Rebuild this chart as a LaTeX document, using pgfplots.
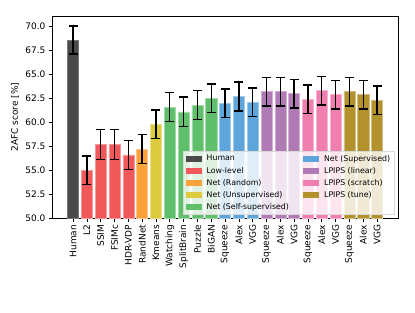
\documentclass[border=0pt]{standalone}
\usepackage{pgfplots}
\pgfplotsset{compat=1.18}
\usepackage{fontspec}
\setmainfont{DejaVu Sans}
\definecolor{cHuman}{HTML}{4A4A4A}
\definecolor{cLow}{HTML}{F0585A}
\definecolor{cRand}{HTML}{FBA23A}
\definecolor{cUnsup}{HTML}{DCCB3C}
\definecolor{cSelf}{HTML}{5FBF6B}
\definecolor{cSup}{HTML}{5EA5DC}
\definecolor{cLin}{HTML}{B07AB5}
\definecolor{cScr}{HTML}{F07FB0}
\definecolor{cTune}{HTML}{B3922E}
\begin{document}
\begin{tikzpicture}
\begin{axis}[
  at={(0,0)}, anchor=south west,
  scale only axis, width=385pt, height=224.4pt,
  xmin=-1.52, xmax=23.57, ymin=50, ymax=71.1,
  ybar, bar width=0.8, bar shift=0pt,
  xtick={0,...,22},
  xticklabels={Human,L2,SSIM,FSIMc,HDR-VDP,RandNet,Kmeans,Watching,SplitBrain,Puzzle,BiGAN,Squeeze,Alex,VGG,Squeeze,Alex,VGG,Squeeze,Alex,VGG,Squeeze,Alex,VGG},
  x tick label style={rotate=90, anchor=east, font=\fontsize{10}{12}\selectfont},
  ytick={50,52.5,...,70},
  yticklabel style={/pgf/number format/fixed, /pgf/number format/fixed zerofill, /pgf/number format/precision=1, font=\fontsize{10}{12}\selectfont},
  /pgf/number format/assume math mode=true,
  tick align=outside, major tick length=3.9pt,
  tick style={black, line width=0.8pt},
  xtick pos=bottom, ytick pos=left,
  axis line style={black, line width=0.8pt},
  ylabel={2AFC score [\%]},
  ylabel style={font=\fontsize{10}{12}\selectfont},
  legend columns=2,
  legend cell align=left,
  legend style={at={(1,0)}, anchor=south east, xshift=-4.4pt, yshift=4.4pt,
    fill=white, fill opacity=0.8, text opacity=1, draw=black!15,
    font=\fontsize{8.7}{10}\selectfont, row sep=1.2pt,
    /tikz/every odd column/.append style={column sep=4pt},
    /tikz/every even column/.append style={column sep=14pt}},
  error bars/y dir=both, error bars/y explicit,
  error bars/error bar style={black, line width=1.5pt},
  error bars/error mark options={black, line width=1.5pt, mark size=5pt, rotate=90},
]
\addlegendimage{legend image code/.code={\fill[cHuman, fill opacity=1] (0pt,-3pt) rectangle (16.7pt,3pt);}}\addlegendentry{Human}
\addlegendimage{legend image code/.code={\fill[cSup, fill opacity=1] (0pt,-3pt) rectangle (16.7pt,3pt);}}\addlegendentry{Net (Supervised)}
\addlegendimage{legend image code/.code={\fill[cLow, fill opacity=1] (0pt,-3pt) rectangle (16.7pt,3pt);}}\addlegendentry{Low-level}
\addlegendimage{legend image code/.code={\fill[cLin, fill opacity=1] (0pt,-3pt) rectangle (16.7pt,3pt);}}\addlegendentry{LPIPS (linear)}
\addlegendimage{legend image code/.code={\fill[cRand, fill opacity=1] (0pt,-3pt) rectangle (16.7pt,3pt);}}\addlegendentry{Net (Random)}
\addlegendimage{legend image code/.code={\fill[cScr, fill opacity=1] (0pt,-3pt) rectangle (16.7pt,3pt);}}\addlegendentry{LPIPS (scratch)}
\addlegendimage{legend image code/.code={\fill[cUnsup, fill opacity=1] (0pt,-3pt) rectangle (16.7pt,3pt);}}\addlegendentry{Net (Unsupervised)}
\addlegendimage{legend image code/.code={\fill[cTune, fill opacity=1] (0pt,-3pt) rectangle (16.7pt,3pt);}}\addlegendentry{LPIPS (tune)}
\addlegendimage{legend image code/.code={\fill[cSelf, fill opacity=1] (0pt,-3pt) rectangle (16.7pt,3pt);}}\addlegendentry{Net (Self-supervised)}

\addplot[fill=cHuman, draw=cHuman!75!white, line width=0.6pt, forget plot] table[x=x, y=y, y error=e] {
x y e
0 68.6 1.45
};
\addplot[fill=cLow, draw=cLow!60!white, line width=0.6pt, forget plot] table[x=x, y=y, y error=e] {
x y e
1 55.0 1.5
2 57.7 1.55
3 57.7 1.55
4 56.6 1.5
};
\addplot[fill=cRand, draw=cRand!60!white, line width=0.6pt, forget plot] table[x=x, y=y, y error=e] {
x y e
5 57.2 1.5
};
\addplot[fill=cUnsup, draw=cUnsup!60!white, line width=0.6pt, forget plot] table[x=x, y=y, y error=e] {
x y e
6 59.8 1.5
};
\addplot[fill=cSelf, draw=cSelf!60!white, line width=0.6pt, forget plot] table[x=x, y=y, y error=e] {
x y e
7 61.6 1.5
8 61.1 1.55
9 61.8 1.5
10 62.5 1.5
};
\addplot[fill=cSup, draw=cSup!60!white, line width=0.6pt, forget plot] table[x=x, y=y, y error=e] {
x y e
11 62.0 1.5
12 62.7 1.5
13 62.1 1.5
};
\addplot[fill=cLin, draw=cLin!60!white, line width=0.6pt, forget plot] table[x=x, y=y, y error=e] {
x y e
14 63.2 1.5
15 63.2 1.5
16 63.0 1.5
};
\addplot[fill=cScr, draw=cScr!60!white, line width=0.6pt, forget plot] table[x=x, y=y, y error=e] {
x y e
17 62.4 1.5
18 63.3 1.5
19 62.9 1.5
};
\addplot[fill=cTune, draw=cTune!60!white, line width=0.6pt, forget plot] table[x=x, y=y, y error=e] {
x y e
20 63.2 1.5
21 62.9 1.5
22 62.3 1.5
};
\end{axis}
\pgfresetboundingbox
\path (-57.8pt,-104.4pt) rectangle (403pt,242.2pt);
\end{tikzpicture}
\end{document}
